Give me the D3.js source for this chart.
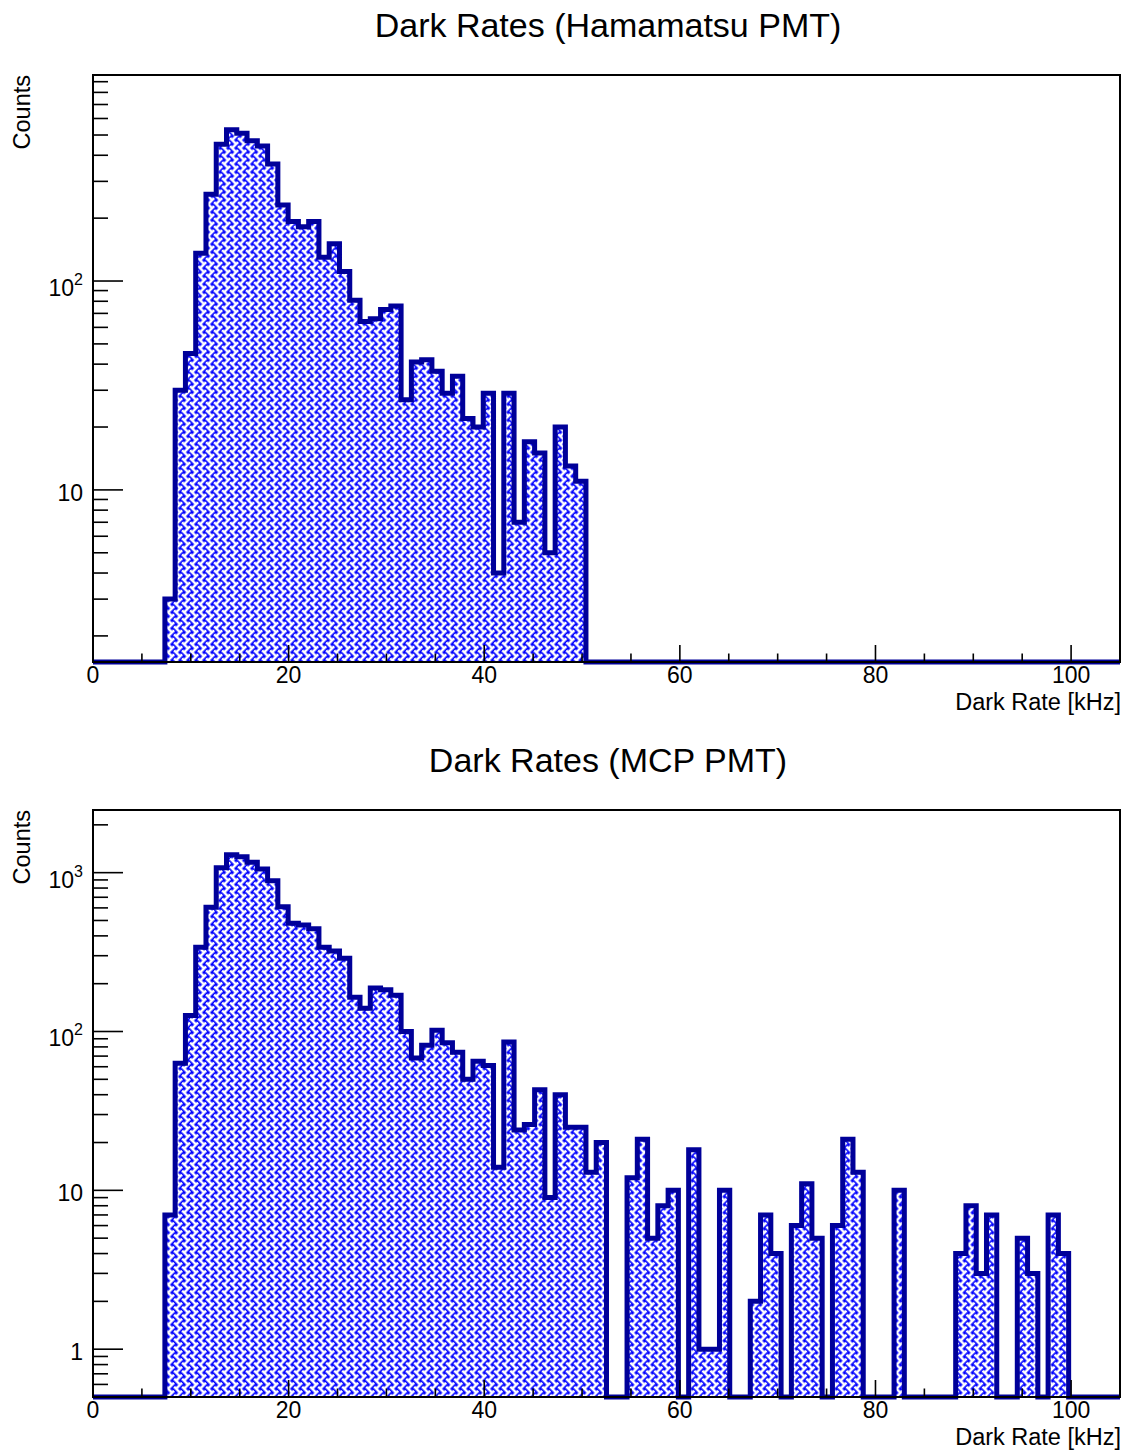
<!DOCTYPE html>
<html>
<head>
<meta charset="utf-8">
<script src="https://cdn.jsdelivr.net/npm/d3@7"></script>
<style>
  html, body { margin: 0; padding: 0; background: #ffffff; }
  svg { display: block; }
  text { font-family: "Liberation Sans", Arial, Helvetica, sans-serif; fill: #000; }
</style>
</head>
<body>
<svg id="chart" width="1126" height="1450"></svg>
<script>
// ---------------- data ----------------
const xMin = 0, xMax = 105, nBins = 100;           // histogram binning (kHz)
const xTickValues = [0, 20, 40, 60, 80, 100];
const xTickLabels = ["0", "20", "40", "60", "80", "100"];
const xAxisTitle = "Dark Rate [kHz]";
const yAxisTitle = "Counts";

const titles = ["Dark Rates (Hamamatsu PMT)", "Dark Rates (MCP PMT)"];

// bin contents, bins 0..99
const hamamatsuCounts = [
  0, 0, 0, 0, 0, 0, 0, 3, 30, 45,
  136, 260, 452, 530, 510, 470, 443, 363, 231, 193,
  182, 193, 130, 151, 111, 81, 64, 66, 73, 76,
  27, 41, 42, 37, 29, 35, 22, 20, 29, 4,
  29, 7, 17, 15, 5, 20, 13, 11, 0, 0,
  0, 0, 0, 0, 0, 0, 0, 0, 0, 0,
  0, 0, 0, 0, 0, 0, 0, 0, 0, 0,
  0, 0, 0, 0, 0, 0, 0, 0, 0, 0,
  0, 0, 0, 0, 0, 0, 0, 0, 0, 0,
  0, 0, 0, 0, 0, 0, 0, 0, 0, 0
];
const mcpCounts = [
  0, 0, 0, 0, 0, 0, 0, 7, 63, 126,
  339, 605, 1074, 1295, 1260, 1162, 1054, 889, 611, 480,
  468, 443, 339, 321, 289, 164, 140, 188, 183, 169,
  100, 68, 82, 102, 85, 74, 50, 65, 61, 14,
  86, 24, 26, 43, 9, 40, 25, 25, 13, 20,
  0, 0, 12, 21, 5, 8, 10, 0, 18, 1,
  1, 10, 0, 0, 2, 7, 4, 0, 6, 11,
  5, 0, 6, 21, 13, 0, 0, 0, 10, 0,
  0, 0, 0, 0, 4, 8, 3, 7, 0, 0,
  5, 3, 0, 7, 4, 0, 0, 0, 0, 0
];
// log-axis ranges (min, max) of each panel
const hamamatsuYRange = [1.5, 969];
const mcpYRange = [0.5, 2480];

// ---------------- drawing ----------------
const svg = d3.select("#chart");
svg.append("rect").attr("width", 1126).attr("height", 1450).attr("fill", "#fff");

const LINE_COLOR = "#000099";
const FILL_COLOR = "#0000ff";

// woven hatch pattern
const defs = svg.append("defs");
const c = 5.66, t = 2.6, P = 2 * c;
const pat = defs.append("pattern")
  .attr("id", "weave")
  .attr("patternUnits", "userSpaceOnUse")
  .attr("width", P).attr("height", P)
  .attr("patternTransform", "rotate(45)");
pat.append("rect").attr("width", P).attr("height", P).attr("fill", FILL_COLOR);
const bars = [
  ["h", 0, 1.5 * c, 0.5 * c],
  ["h", c, 2 * c, 1.5 * c],
  ["h", 0, 0.5 * c, 1.5 * c],
  ["v", 0, 1.5 * c, 1.5 * c],
  ["v", c, 2 * c, 0.5 * c],
  ["v", 0, 0.5 * c, 0.5 * c]
];
bars.forEach(b => {
  if (b[0] === "h") {
    pat.append("rect").attr("x", b[1]).attr("y", b[3] - t / 2)
      .attr("width", b[2] - b[1]).attr("height", t).attr("fill", "#fff");
  } else {
    pat.append("rect").attr("x", b[3] - t / 2).attr("y", b[1])
      .attr("width", t).attr("height", b[2] - b[1]).attr("fill", "#fff");
  }
});

const frameLeft = 93, frameRight = 1120;
const panels = [
  { title: titles[0], counts: hamamatsuCounts, yRange: hamamatsuYRange, top: 75, bottom: 662 },
  { title: titles[1], counts: mcpCounts, yRange: mcpYRange, top: 810, bottom: 1397 }
];

const x = d3.scaleLinear().domain([xMin, xMax]).range([frameLeft, frameRight]);
const binW = (xMax - xMin) / nBins;

panels.forEach(p => {
  const g = svg.append("g");
  const y = d3.scaleLog().domain(p.yRange).range([p.bottom, p.top]);
  const yb = p.bottom;

  const pts = [[x(xMin), yb]];
  p.counts.forEach((v, i) => {
    const yv = v > 0 ? y(v) : yb;
    pts.push([x(xMin + i * binW), yv]);
    pts.push([x(xMin + (i + 1) * binW), yv]);
  });
  pts.push([x(xMax), yb]);

  const area = d3.area().x(d => d[0]).y0(yb).y1(d => d[1]);
  g.append("path").attr("d", area(pts)).attr("fill", "url(#weave)").attr("stroke", "none");

  const line = d3.line().x(d => d[0]).y(d => d[1]);
  g.append("path").attr("d", line(pts))
    .attr("fill", "none").attr("stroke", LINE_COLOR)
    .attr("stroke-width", 5).attr("stroke-linejoin", "miter");

  // frame
  g.append("rect")
    .attr("x", frameLeft).attr("y", p.top)
    .attr("width", frameRight - frameLeft).attr("height", p.bottom - p.top)
    .attr("fill", "none").attr("stroke", "#000").attr("stroke-width", 2);

  // x ticks
  const minorX = d3.range(xMin, xMax + 0.001, 5);
  minorX.forEach(v => {
    const major = v % 20 === 0;
    g.append("line")
      .attr("x1", x(v)).attr("x2", x(v))
      .attr("y1", yb).attr("y2", yb - (major ? 17 : 8.5))
      .attr("stroke", "#000").attr("stroke-width", 1.6);
  });
  xTickValues.forEach((v, i) => {
    g.append("text")
      .attr("x", x(v)).attr("y", yb + 21)
      .attr("text-anchor", "middle")
      .attr("font-size", 23)
      .text(xTickLabels[i]);
  });
  g.append("text")
    .attr("x", frameRight + 1).attr("y", yb + 47.5)
    .attr("text-anchor", "end")
    .attr("font-size", 23.5)
    .text(xAxisTitle);

  // y ticks (log)
  const yt = y.ticks();
  yt.forEach(v => {
    const lg = Math.log10(v);
    const major = Math.abs(lg - Math.round(lg)) < 1e-9;
    g.append("line")
      .attr("x1", frameLeft).attr("x2", frameLeft + (major ? 30 : 15))
      .attr("y1", y(v)).attr("y2", y(v))
      .attr("stroke", "#000").attr("stroke-width", 1.6);
    if (major) {
      const e = Math.round(lg);
      if (e <= 1) {
        g.append("text")
          .attr("x", frameLeft - 10).attr("y", y(v) + 11)
          .attr("text-anchor", "end").attr("font-size", 23)
          .text(e === 0 ? "1" : "10");
      } else {
        const tx = g.append("text")
          .attr("x", frameLeft - 10).attr("y", y(v) + 15)
          .attr("text-anchor", "end").attr("font-size", 23);
        tx.append("tspan").text("10");
        tx.append("tspan").attr("font-size", 16).attr("dy", -11).text(String(e));
      }
    }
  });

  // y-axis title
  g.append("text")
    .attr("transform", `translate(30,${p.top}) rotate(-90)`)
    .attr("text-anchor", "end")
    .attr("font-size", 23.5)
    .text(yAxisTitle);

  // title
  g.append("text")
    .attr("x", 608).attr("y", p.top - 38)
    .attr("text-anchor", "middle")
    .attr("font-size", 34)
    .text(p.title);
});
</script>
</body>
</html>
